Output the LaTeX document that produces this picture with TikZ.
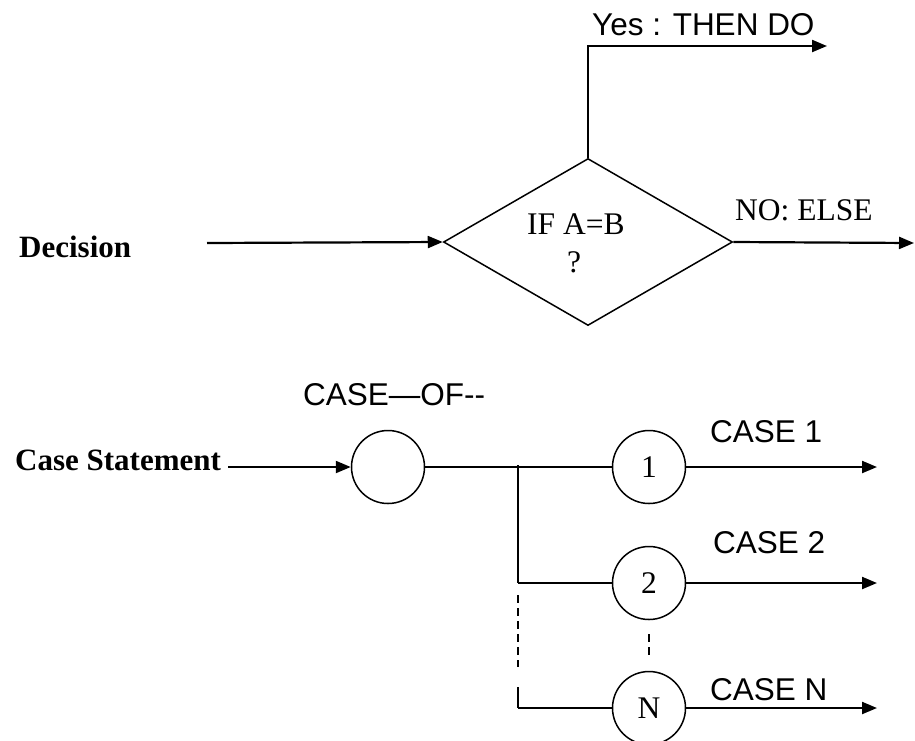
\documentclass[tikz,border=0pt]{standalone}
\usepackage{fontspec}
\setmainfont{Liberation Serif}
\newfontfamily\arialf{Liberation Sans}
\usetikzlibrary{shapes.geometric,arrows.meta}
\begin{document}
\begin{tikzpicture}[x=1pt,y=-1pt,
  arr/.style={line width=2.2pt,-{Triangle[length=15pt,width=12pt]}},
  thin/.style={line width=1.5pt},
  sanslbl/.style={anchor=base west,inner sep=0pt,font=\arialf\fontsize{31.5}{36}\selectfont},
  seriflbl/.style={anchor=base west,inner sep=0pt,font=\fontsize{31.5}{36}\selectfont},
  boldlbl/.style={anchor=base west,inner sep=0pt,font=\bfseries\fontsize{31}{36}\selectfont},
  cnode/.style={circle,draw,line width=1.5pt,minimum size=73pt,inner sep=0pt,font=\fontsize{31.5}{36}\selectfont},
  dashline/.style={line width=1.7pt,dash pattern=on 8pt off 5pt}]
\useasboundingbox (0,0) rectangle (915,740);
% Decision
\node[diamond,draw,line width=1.5pt,minimum width=289pt,minimum height=167pt,inner sep=0pt] (dia) at (588,242) {};
\node[boldlbl] (dec) at (19,257) {Decision};
\node[seriflbl] (ifab) at (527,234) {IF A=B};
\node[seriflbl] (q) at (567,272) {?};
\node[sanslbl] (yes) at (592,35) {Yes : THEN DO};
\node[seriflbl] (no) at (735,220) {NO: ELSE};
\coordinate (din) at (207,243);
\coordinate (yesend) at (827,46);
\coordinate (noend) at (914,243);
\draw[arr] (din) -- (dia.west);
\draw[arr] (dia.north) |- (yesend);
\draw[arr] (dia.east) -- (noend);
% Case
\node[boldlbl] (cs) at (15,470) {Case Statement};
\node[sanslbl] (caseof) at (303,405) {CASE—OF--};
\node[cnode] (c0) at (388,467) {};
\node[cnode] (c1) at (649,467) {1};
\node[cnode] (c2) at (649,583) {2};
\node[cnode] (cN) at (649,708) {N};
\node[sanslbl] (l1) at (710,442) {CASE 1};
\node[sanslbl] (l2) at (713,553) {CASE 2};
\node[sanslbl] (lN) at (710,700) {CASE N};
\coordinate (csout) at (228,467);
\draw[arr] (csout) -- (c0.west);
\draw[thin] (c0.east) -- (c1.west);
\coordinate (j1) at (518,465);
\coordinate (j2) at (518,583);
\coordinate (jd1) at (518,595);
\coordinate (jd2) at (518,667);
\coordinate (j3) at (518,687);
\coordinate (j4) at (518,708);
\draw[line width=1.8pt] (j1) -- (j2);
\draw[thin] (j2) -- (c2.west);
\draw[dashline] (jd1) -- (jd2);
\draw[line width=1.8pt] (j3) -- (j4);
\draw[thin] (j4) -- (cN.west);
\draw[dashline,shorten >=15pt,shorten <=14pt] (c2.south) -- (cN.north);
\coordinate (o1) at (877,467);
\coordinate (o2) at (877,583);
\coordinate (oN) at (877,708);
\draw[arr] (c1.east) -- (o1);
\draw[arr] (c2.east) -- (o2);
\draw[arr] (cN.east) -- (oN);
\end{tikzpicture}
\end{document}
